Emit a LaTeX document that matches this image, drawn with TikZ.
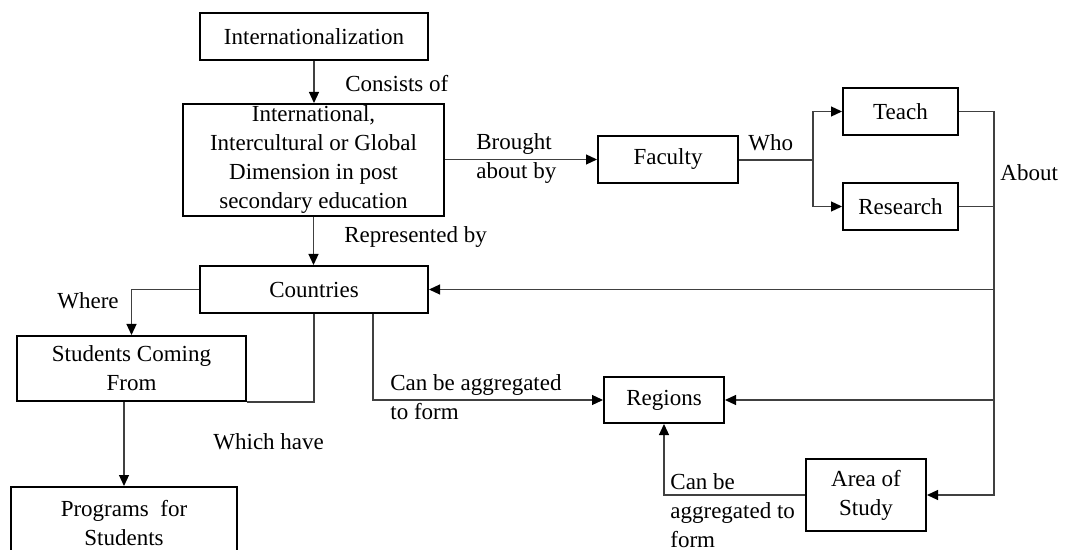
\documentclass[tikz,border=0pt]{standalone}
\usepackage{fontspec}
\setmainfont{Liberation Serif}
\usetikzlibrary{arrows.meta,calc}
\begin{document}
\begin{tikzpicture}[x=0.5pt,y=-0.5pt,
  every node/.style={font=\fontsize{11.5}{14.5}\selectfont},
  box/.style={draw=black,line width=1pt,fill=white,inner sep=1pt,align=center},
  conn/.style={draw=black!75,line width=0.6pt},
  arr/.style={conn,-{Triangle[length=5.5pt,width=5pt,black]}},
  lbl/.style={inner sep=0pt,align=left,anchor=west}]
\useasboundingbox (0,0) rectangle (1086,550);
% boxes
\node[box,minimum width=114pt,minimum height=23.5pt] (intz) at (314,36.5) {Internationalization};
\node[box,minimum width=130.5pt,minimum height=56pt] (dim) at (313.5,160) {International,\\Intercultural or Global\\Dimension in post\\secondary education};
\node[box,minimum width=114pt,minimum height=23.5pt] (countries) at (314,289.5) {Countries};
\node[box,minimum width=70pt,minimum height=23.5pt] (faculty) at (668,159.5) {Faculty};
\node[box,minimum width=57.5pt,minimum height=23.5pt] (teach) at (900.5,111.5) {Teach};
\node[box,minimum width=57.5pt,minimum height=23.5pt] (research) at (900.5,206.5) {Research};
\node[box,minimum width=60pt,minimum height=23pt] (regions) at (664,400) {Regions};
\node[box,minimum width=60pt,minimum height=36pt] (area) at (866,495) {Area of\\Study};
\node[box,minimum width=114.5pt,minimum height=32.5pt] (students) at (131.5,368.5) {Students Coming\\From};
\node[box,minimum width=113pt,minimum height=36pt] (programs) at (124,523) {Programs~~for\\Students};
% connectors
\draw[arr] (intz.south) -- (intz.south |- dim.north);
\node[lbl] (l1) at (345,84) {Consists of};
\draw[arr] (dim.south) -- (dim.south |- countries.north);
\node[lbl] (l2) at (344,237) {Represented by};
\draw[arr] (dim.east |- faculty.west) -- (faculty.west);
\node[lbl] (l3) at (476,158.5) {Brought\\about by};
\coordinate (j1) at (813,160);
\draw[conn] (faculty.east |- j1) -- (j1);
\draw[arr] (j1) |- (teach.west);
\draw[arr] (j1) |- (research.west);
\node[lbl] (l4) at (748,143) {Who};
\coordinate (bus) at (994,0);
\draw[arr] (teach.east) -- (teach.east -| bus) -- (bus |- area.east) -- (area.east);
\draw[conn] (research.east) -- (research.east -| bus) -- (bus |- regions.east);
\draw[arr] (bus |- countries.east) -- (countries.east);
\draw[arr] (bus |- regions.east) -- (regions.east);
\node[lbl] (l5) at (1000,173) {About};
\draw[arr] (countries.west) -| (students.north);
\node[lbl] (l6) at (57,301) {Where};
\draw[conn] (countries.south) -- (countries.south |- students.south east) -- (students.south east);
\draw[arr] ([xshift=29.5pt]countries.south) |- (regions.west);
\node[lbl] (l7) at (390,397.5) {Can be aggregated\\to form};
\draw[arr] ([xshift=-3.75pt]students.south) -- (programs.north);
\node[lbl] (l8) at (213,442) {Which have};
\draw[arr] (area.west) -| (regions.south);
\node[lbl] (l9) at (670,511) {Can be\\aggregated to\\form};
\end{tikzpicture}
\end{document}
